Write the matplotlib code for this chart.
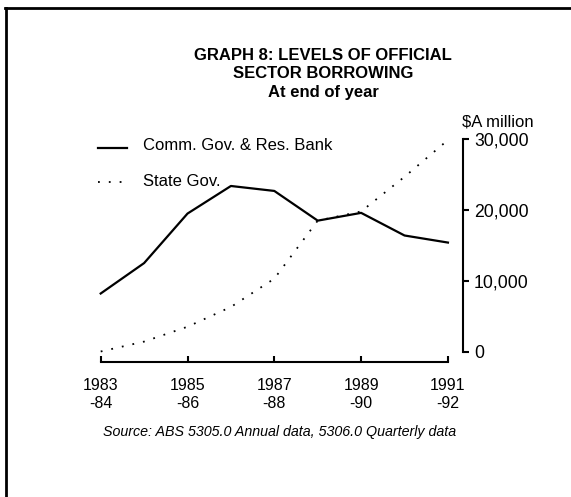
import matplotlib
matplotlib.use("Agg")
import matplotlib.pyplot as plt
from matplotlib.lines import Line2D

plt.rcParams['font.family'] = ['Liberation Sans', 'DejaVu Sans']

# data
years = [1983, 1984, 1985, 1986, 1987, 1988, 1989, 1990, 1991]
comm_gov = [8200, 12500, 19500, 23400, 22700, 18500, 19600, 16400, 15400]
state_gov = [0, 1400, 3500, 6300, 10300, 18500, 19800, 24700, 29900]
xticks = [1983, 1985, 1987, 1989, 1991]
xlabels = ['1983\n-84', '1985\n-86', '1987\n-88', '1989\n-90', '1991\n-92']
yticks = [0, 10000, 20000, 30000]
ylabels = ['0', '10,000', '20,000', '30,000']

W, H = 571, 497
fig = plt.figure(figsize=(W / 100, H / 100), dpi=100)

def fx(px):
    return px / W

def fy(py):
    return 1 - py / H

dots = (0, (1, 5))

ax = fig.add_axes([fx(100.7), fy(361.7), fx(462.7 - 100.7), fy(139.3) - fy(361.7)])
ax.set_xlim(1983, 1991.34)
ax.set_ylim(-1442, 30000)

ax.plot(years, comm_gov, color='black', lw=1.6, clip_on=False)
ax.plot(years, state_gov, color='black', lw=1.3, ls=dots, clip_on=False)

for s in ['top', 'left']:
    ax.spines[s].set_visible(False)
ax.spines['bottom'].set_bounds(1983, 1991)
ax.spines['right'].set_bounds(0, 30000)
ax.spines['bottom'].set_linewidth(1.5)
ax.spines['right'].set_linewidth(1.5)

ax.set_xticks(xticks)
ax.set_xticklabels(xlabels, fontsize=11.5)
ax.tick_params(axis='x', direction='in', length=4, width=1.5, pad=12)
ax.yaxis.tick_right()
ax.set_yticks(yticks)
ax.set_yticklabels(ylabels, fontsize=12.7)
ax.tick_params(axis='y', direction='out', length=4, width=1.5, pad=4)

# title
fig.text(fx(323), fy(56), 'GRAPH 8: LEVELS OF OFFICIAL', ha='center', va='center',
         fontsize=12, fontweight='bold')
fig.text(fx(323), fy(74), 'SECTOR BORROWING', ha='center', va='center',
         fontsize=12, fontweight='bold')
fig.text(fx(323), fy(92.5), 'At end of year', ha='center', va='center',
         fontsize=12, fontweight='bold')

fig.text(fx(462), fy(122), '$A million', ha='left', va='center', fontsize=12)

# legend
fig.add_artist(Line2D([fx(98), fx(127)], [fy(148), fy(148)], color='black', lw=1.6))
fig.add_artist(Line2D([fx(98), fx(130)], [fy(182), fy(182)], color='black', lw=1.3,
                      ls=dots))
fig.text(fx(143), fy(145), 'Comm. Gov. & Res. Bank', ha='left', va='center', fontsize=12)
fig.text(fx(143), fy(181), 'State Gov.', ha='left', va='center', fontsize=12)

fig.text(fx(103), fy(432), 'Source: ABS 5305.0 Annual data, 5306.0 Quarterly data',
         ha='left', va='center', fontsize=10.3, style='italic')

# page frame
fig.add_artist(Line2D([fx(5), fx(571)], [fy(8), fy(8)], color='black', lw=2))
fig.add_artist(Line2D([fx(6), fx(6)], [fy(8), fy(497)], color='black', lw=2))

fig.savefig('out.png', dpi=100)
